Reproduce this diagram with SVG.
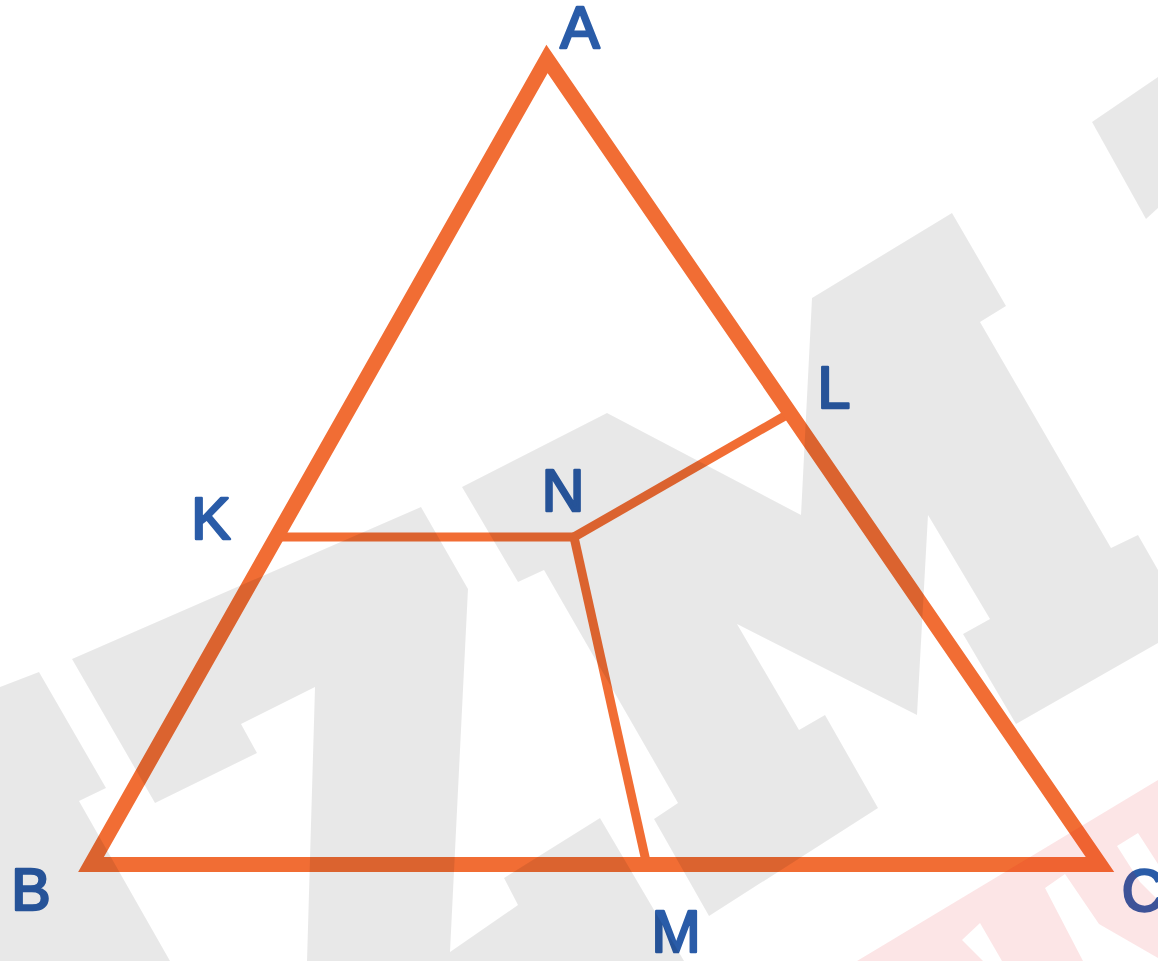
<svg xmlns="http://www.w3.org/2000/svg" width="1158" height="961" viewBox="0 0 1158 961">
  <style>
    .edge { fill: none; stroke: #f16d34; stroke-linejoin: miter; stroke-linecap: butt; }
    .tri { stroke-width: 15; }
    .seg { stroke-width: 9; }
    .lbl { font-family: "Liberation Sans", Arial, sans-serif; font-size: 59px; fill: #2a5ca8; stroke: #2a5ca8; stroke-width: 2.6; stroke-linejoin: round; stroke-linecap: round; text-anchor: middle; }
    .wm-grey { fill: #000000; fill-opacity: 0.09; }
    .wm-pink { fill: #e8141c; fill-opacity: 0.11; fill-rule: evenodd; }
  </style>
  <rect x="0" y="0" width="1158" height="961" fill="#ffffff"/>

  <g id="connectors">
    <line class="edge seg" x1="276.5" y1="537" x2="574" y2="537"/>
    <line class="edge seg" x1="574" y1="537" x2="790" y2="413"/>
    <line class="edge seg" x1="574" y1="537" x2="646.7" y2="864.5"/>
  </g>

  <g id="triangle-ABC">
    <polygon class="edge tri" points="547,59 91,864.5 1100,864.5"/>
  </g>

  <g id="labels">
    <g id="node-A"><text class="lbl" x="580" y="48">A</text></g>
    <g id="node-B"><text class="lbl" x="31" y="910">B</text></g>
    <g id="node-C"><text class="lbl" x="1143" y="911">C</text></g>
    <g id="node-K"><text class="lbl" x="211" y="539">K</text></g>
    <g id="node-L"><text class="lbl" x="834" y="408">L</text></g>
    <g id="node-M"><text class="lbl" x="676" y="952">M</text></g>
    <g id="node-N"><text class="lbl" x="563" y="511">N</text></g>
  </g>

  <g id="watermark">
    <polygon class="wm-grey" points="1092,122 1158,77 1158,208 1146,219"/>
    <polygon class="wm-grey" points="812,298 952,213 1006,306 980,322 1111,548 1138,535 1158,570 1158,643 1016,724 963,634 990,619 928,515 917,715 737,624 799,730 825,715 878,808 709,916 654,819 678,803 544,570 518,582 462,487 607,413 801,515"/>
    <polygon class="wm-grey" points="72,659 421,507 468,589 450,952 518,905 504,878 600,818 684,961 307,961 315,687 241,724 257,753 155,803"/>
    <polygon class="wm-grey" points="0,687 39,672 106,788 79,801 170,961 0,961"/>
    <path class="wm-pink" d="M857,961 L1158,780 L1158,961 Z M962,940 L980,923 L1002,961 L983,961 Z M1045,888 L1065,874 L1099,924 L1158,958 L1158,961 L1083,961 Z M1117,846 L1138,833 L1158,864 L1158,900 L1140,882 Z"/>
  </g>
</svg>
